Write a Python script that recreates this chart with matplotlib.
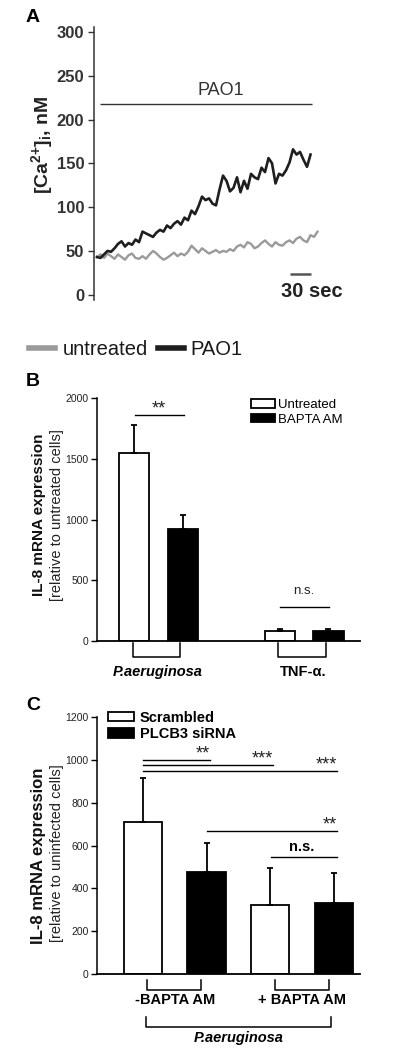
import numpy as np
import matplotlib

matplotlib.use("Agg")
import matplotlib.pyplot as plt

plt.rcParams["font.family"] = ["Liberation Sans", "DejaVu Sans"]
plt.rcParams["mathtext.fontset"] = "custom"
plt.rcParams["mathtext.rm"] = "Liberation Sans:bold"
plt.rcParams["mathtext.bf"] = "Liberation Sans:bold"
plt.rcParams["mathtext.it"] = "Liberation Sans:bold:italic"

NARROW = ["Liberation Sans Narrow", "Liberation Sans", "DejaVu Sans"]

# ---- Panel A: [Ca2+]i traces, one sample every 5 s -----------------------
SAMPLE_S = 5
untreated_ca = [43, 46, 42, 47, 44, 41, 46, 43, 40, 45, 47, 42, 41, 44, 41, 46,
                50, 47, 43, 40, 42, 45, 48, 44, 47, 45, 49, 56, 52, 48, 53, 50,
                47, 49, 51, 48, 50, 49, 52, 50, 55, 57, 54, 60, 58, 53, 55, 59,
                62, 58, 55, 60, 57, 56, 60, 62, 59, 64, 66, 62, 60, 68, 66, 72]
pao1_ca = [43, 42, 46, 50, 49, 53, 58, 61, 55, 59, 57, 63, 60, 72, 70, 68,
           66, 71, 74, 72, 79, 76, 81, 84, 80, 88, 85, 96, 92, 101, 112, 108,
           110, 104, 102, 120, 136, 130, 118, 122, 134, 117, 130, 121, 138, 134,
           132, 145, 140, 156, 150, 127, 138, 136, 142, 151, 166, 160, 163, 154,
           146, 160]
t_untreated = np.arange(len(untreated_ca)) * SAMPLE_S
t_pao1 = np.arange(len(pao1_ca)) * SAMPLE_S
PAO1_LEVEL = 218       # nM, height of the "PAO1" exposure bar
SCALE_BAR_S = 30
SCALE_BAR_LEVEL = 24

# ---- Panel B: IL-8 mRNA, untreated vs BAPTA-AM ---------------------------
b_groups = ["P.aeruginosa", "TNF-α."]
b_untreated = [1547, 85]
b_untreated_err = [228, 10]
b_bapta = [921, 85]
b_bapta_err = [118, 10]
b_sig = [(0, 1863, "**"), (1, 283, "n.s.")]   # (group, line level, label)

# ---- Panel C: IL-8 mRNA, scrambled vs PLCB3 siRNA ------------------------
c_groups = ["-BAPTA AM", "+ BAPTA AM"]
c_scrambled = [709, 323]
c_scrambled_err = [204, 173]
c_plcb3 = [478, 330]
c_plcb3_err = [134, 141]
# bar order: 0 scr-, 1 plcb3-, 2 scr+, 3 plcb3+
c_sig = [(0, 1, 1001, "**"), (0, 2, 976, "***"), (0, 3, 950, "***"),
         (1, 3, 667, "**"), (2, 3, 544, "n.s.")]

W, H = 394, 1050
fig = plt.figure(figsize=(W / 100, H / 100), dpi=100)


def box(left, top, right, bottom):
    return [left / W, 1 - bottom / H, (right - left) / W, (bottom - top) / H]


# =========================== Panel A ======================================
axA = fig.add_axes(box(94, 26.7, 325, 300.4))
lu, = axA.plot(t_untreated, untreated_ca, color="#9a9a9a", lw=1.7,
               label="untreated")
lp, = axA.plot(t_pao1, pao1_ca, color="#1e1e1e", lw=1.9, label="PAO1")
axA.set_xlim(-4.3, 325.7)
axA.set_ylim(-6.5, 306)
axA.set_yticks(np.arange(0, 301, 50))
axA.set_xticks([])
for s in ["top", "right", "bottom"]:
    axA.spines[s].set_visible(False)
axA.spines["left"].set_color("#333333")
axA.spines["left"].set_linewidth(1.1)
axA.tick_params(axis="y", length=4, width=1, colors="#333333", labelsize=12, pad=3)
for lab in axA.get_yticklabels():
    lab.set_fontweight("bold")
axA.text(-0.225, 0.568, r"[Ca$^{\text{2+}}$]$_{\text{i}}$, nM", rotation=90,
         transform=axA.transAxes, ha="center", va="center", fontsize=14,
         fontweight="bold", color="#222222")

axA.hlines(PAO1_LEVEL, t_pao1[0] + 4, t_pao1[-1] + 2, color="#333333", lw=1)
axA.text((t_pao1[0] + t_pao1[-1]) / 2 + 25, PAO1_LEVEL + 6, "PAO1", ha="center",
         va="bottom", fontsize=13, color="#333333")
sb_end = t_pao1[-1]
axA.hlines(SCALE_BAR_LEVEL, sb_end - SCALE_BAR_S, sb_end, color="#555555", lw=1.8)
axA.text(sb_end + 2, SCALE_BAR_LEVEL - 10, f"{SCALE_BAR_S} sec", ha="center",
         va="top", fontsize=14.5, fontweight="bold", color="#222222")

legA = fig.legend([lu, lp], ["untreated", "PAO1"], loc="center",
                  bbox_to_anchor=(136 / W, 1 - 350 / H), ncol=2, frameon=False,
                  fontsize=14.5, handlelength=1.3, handletextpad=0.35,
                  columnspacing=0.5)
for ln in legA.get_lines():
    ln.set_linewidth(4)
for t in legA.get_texts():
    t.set_color("#1a1a1a")

fig.text(33 / W, 1 - 17 / H, "A", ha="center", va="center", fontsize=14,
         fontweight="bold")


def style_bar_axes(ax, ticks):
    ax.set_yticks(ticks)
    ax.set_xticks([])
    for s in ["top", "right"]:
        ax.spines[s].set_visible(False)
    ax.spines["left"].set_linewidth(1.1)
    ax.spines["bottom"].set_linewidth(1.3)
    ax.tick_params(axis="y", length=4, width=1, labelsize=7.5, pad=2,
                   labelcolor="#222222")
    for lab in ax.get_yticklabels():
        lab.set_family(NARROW)


def bracket(ax, x0, x1, y_top, y_bot):
    ax.plot([x0, x0, x1, x1], [y_top, y_bot, y_bot, y_top], color="black",
            lw=1.1, transform=ax.get_xaxis_transform(), clip_on=False)


# =========================== Panel B ======================================
axB = fig.add_axes(box(97, 398, 360, 641))
xb = np.arange(len(b_groups)) * 3
wb = 0.62
bu = axB.bar(xb, b_untreated, wb, color="white", edgecolor="black", lw=1.3)
bb = axB.bar(xb + 1, b_bapta, wb, color="black", edgecolor="black", lw=1.3)
axB.errorbar(xb, b_untreated, yerr=[np.zeros(len(xb)), b_untreated_err],
             fmt="none", ecolor="black", elinewidth=1.3, capsize=2.5, capthick=1.3)
axB.errorbar(xb + 1, b_bapta, yerr=[np.zeros(len(xb)), b_bapta_err],
             fmt="none", ecolor="black", elinewidth=1.3, capsize=2.5, capthick=1.3)
axB.set_xlim(-0.77, 4.65)
axB.set_ylim(0, 2000)
style_bar_axes(axB, [0, 500, 1000, 1500, 2000])

for g, level, label in b_sig:
    x0, x1 = xb[g], xb[g] + 1
    axB.plot([x0 + 0.01, x1 + 0.02], [level, level], color="black", lw=1)
    if label == "n.s.":
        axB.annotate(label, xy=((x0 + x1) / 2, level), xytext=(0, 7),
                     textcoords="offset points", ha="center", va="bottom",
                     fontsize=9.5, color="#222222")
    else:
        axB.annotate(label, xy=((x0 + x1) / 2, level), xytext=(0, 1),
                     textcoords="offset points", ha="center", va="baseline",
                     fontsize=13, color="#222222")

for g, name in enumerate(b_groups):
    bracket(axB, xb[g] - 0.03, xb[g] + 0.95, -0.008, -0.066)
    axB.text(xb[g] + 0.48, -0.128, name, transform=axB.get_xaxis_transform(),
             ha="center", va="center", fontsize=10.5, fontweight="bold",
             style="italic" if g == 0 else "normal", family=NARROW)

axB.legend([bu, bb], ["Untreated", "BAPTA AM"], loc="upper left",
           bbox_to_anchor=(0.585, 0.995), frameon=False,
           handlelength=1.8, handleheight=0.6, handletextpad=0.25,
           labelspacing=0.2, borderpad=0, borderaxespad=0,
           prop={"family": NARROW, "size": 9.5})

axB.text(-0.222, 0.52, "IL-8 mRNA expression", rotation=90,
         transform=axB.transAxes, ha="center", va="center", fontsize=11,
         fontweight="bold", color="#111111")
axB.text(-0.152, 0.52, "[relative to untreated cells]", rotation=90,
         transform=axB.transAxes, ha="center", va="center", fontsize=10.5,
         color="#222222")
fig.text(33 / W, 1 - 382 / H, "B", ha="center", va="center", fontsize=14,
         fontweight="bold")

# =========================== Panel C ======================================
axC = fig.add_axes(box(97, 717, 360, 974))
xc = np.arange(len(c_groups)) * 2
wc = 0.6
cs = axC.bar(xc, c_scrambled, wc, color="white", edgecolor="black", lw=1.3)
cp = axC.bar(xc + 1, c_plcb3, wc, color="black", edgecolor="black", lw=1.3)
axC.errorbar(xc, c_scrambled, yerr=[np.zeros(len(xc)), c_scrambled_err],
             fmt="none", ecolor="black", elinewidth=1.3, capsize=2.5, capthick=1.3)
axC.errorbar(xc + 1, c_plcb3, yerr=[np.zeros(len(xc)), c_plcb3_err],
             fmt="none", ecolor="black", elinewidth=1.3, capsize=2.5, capthick=1.3)
axC.set_xlim(-0.72, 3.41)
axC.set_ylim(0, 1200)
style_bar_axes(axC, np.arange(0, 1201, 200))

for i, j, level, label in c_sig:
    axC.plot([i + 0.01, j + 0.05], [level, level], color="black", lw=1)
    if label == "n.s.":
        axC.annotate(label, xy=((i + j) / 2, level), xytext=(0, 2.5),
                     textcoords="offset points", ha="center", va="bottom",
                     fontsize=10.5, fontweight="bold", family=NARROW)
    else:
        axC.annotate(label, xy=(j + 0.05, level), xytext=(0, 1),
                     textcoords="offset points", ha="right", va="baseline",
                     fontsize=13, color="#222222")

for g, name in enumerate(c_groups):
    bracket(axC, xc[g] + 0.07, xc[g] + 0.92, -0.023, -0.062)
    axC.text(xc[g] + 0.5, -0.101, name, transform=axC.get_xaxis_transform(),
             ha="center", va="center", fontsize=10.5, fontweight="bold",
             family=NARROW)
bracket(axC, xc[0] + 0.05, xc[-1] + 0.95, -0.167, -0.206)
axC.text((xc[0] + xc[-1] + 1) / 2, -0.25, "P.aeruginosa",
         transform=axC.get_xaxis_transform(), ha="center", va="center",
         fontsize=10.5, fontweight="bold", style="italic", family=NARROW)

axC.legend([cs, cp], ["Scrambled", "PLCB3 siRNA"], loc="upper left",
           bbox_to_anchor=(0.04, 1.025), frameon=False,
           handlelength=1.8, handleheight=0.65, handletextpad=0.4,
           labelspacing=0.15, borderpad=0, borderaxespad=0,
           prop={"family": NARROW, "size": 10.5, "weight": "bold"})

axC.text(-0.222, 0.46, "IL-8 mRNA expression", rotation=90,
         transform=axC.transAxes, ha="center", va="center", fontsize=12,
         fontweight="bold", color="#111111")
axC.text(-0.152, 0.47, "[relative to uninfected cells]", rotation=90,
         transform=axC.transAxes, ha="center", va="center", fontsize=10.5,
         color="#222222")
fig.text(33 / W, 1 - 705 / H, "C", ha="center", va="center", fontsize=14,
         fontweight="bold")

fig.savefig("out.png", dpi=100, facecolor="white")
